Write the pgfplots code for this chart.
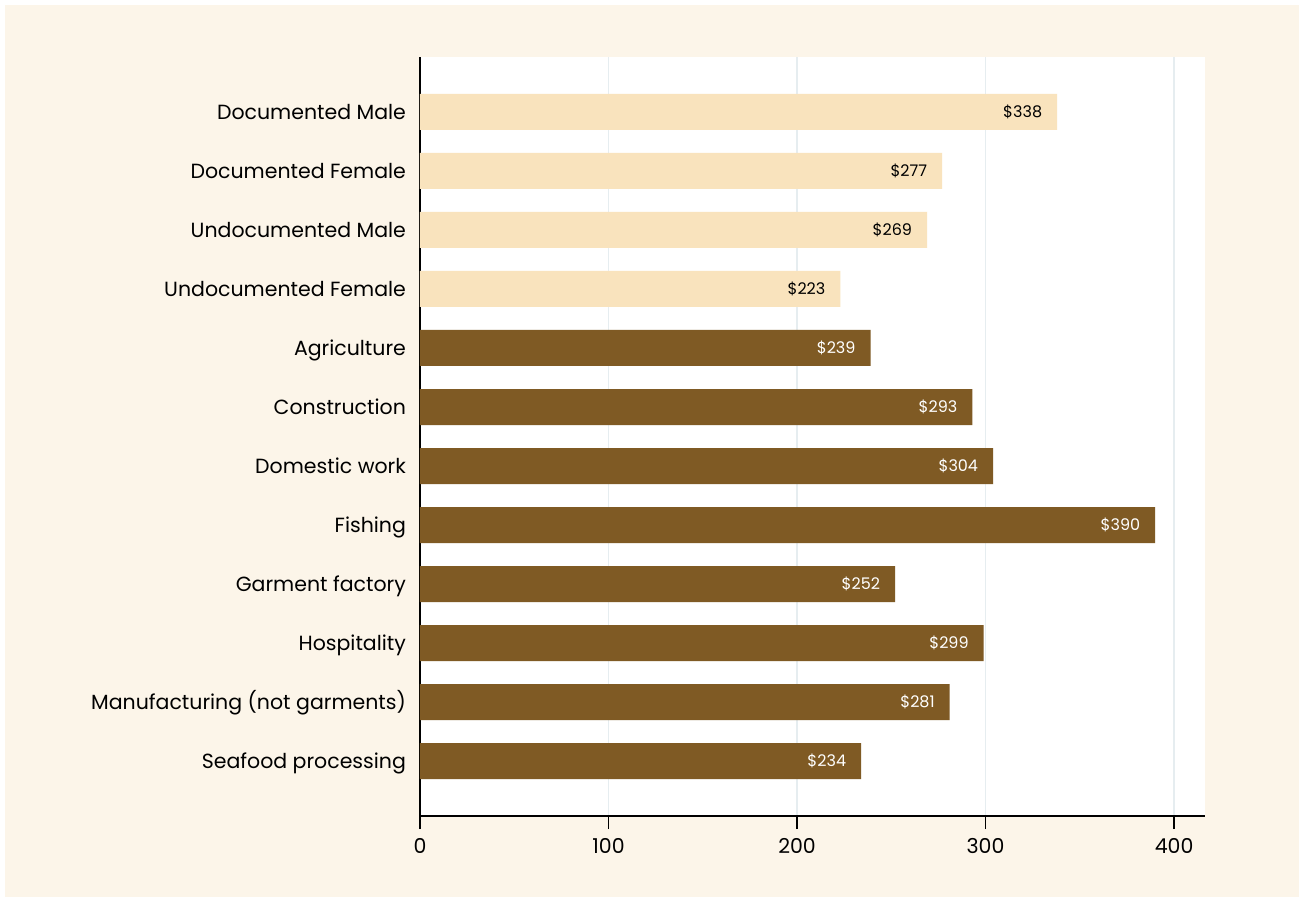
\documentclass[border=0pt]{standalone}
\usepackage{fontspec}
\setmainfont{Poppins}
\usepackage{pgfplots}
\pgfplotsset{compat=1.18}
\definecolor{cream}{HTML}{FCF5E9}
\definecolor{lightbar}{HTML}{F9E3BD}
\definecolor{darkbar}{HTML}{7F5A24}
\definecolor{gridc}{HTML}{E6EDF0}
\begin{document}
\begin{tikzpicture}
\fill[white] (-210pt,-43pt) rectangle (442pt,408pt);
\fill[cream] (-207.5pt,-40.5pt) rectangle (439.5pt,405.5pt);
\begin{axis}[
  at={(0,0)}, anchor=south west,
  scale only axis, width=392.5pt, height=379.5pt,
  axis background/.style={fill=white},
  xbar, bar width=18pt, bar shift=0pt,
  xmin=0, xmax=416.4, ymin=-0.93, ymax=11.93, y dir=reverse,
  ytick={0,...,11},
  yticklabels={Documented Male, Documented Female, Undocumented Male, Undocumented Female, Agriculture, Construction, Domestic work, Fishing, Garment factory, Hospitality, Manufacturing (not garments), Seafood processing},
  xtick={0,100,200,300,400},
  axis x line*=bottom, axis y line*=left,
  axis line style={black, line width=0.75pt},
  x tick style={black, line width=0.75pt},
  y tick style={draw=none},
  tick align=outside, major tick length=6.5pt,
  xmajorgrids, grid style={gridc, line width=0.6pt},
  /pgf/number format/assume math mode=true,
  tick label style={font=\fontsize{10.25}{12}\selectfont, black},
  yticklabel style={anchor=base east, xshift=3pt, yshift=-3.7pt},
  xticklabel style={yshift=-1pt},
  nodes near coords={\$\pgfmathprintnumber{\pgfplotspointmeta}},
  point meta=x,
  every node near coord/.append style={anchor=base east, xshift=-4pt, yshift=-2.9pt, font=\fontsize{8}{10}\selectfont},
]
\addplot[fill=lightbar, draw=none, every node near coord/.append style={text=black}] coordinates {
  (338,0) (277,1) (269,2) (223,3)
};
\addplot[fill=darkbar, draw=none, every node near coord/.append style={text=white}] coordinates {
  (239,4) (293,5) (304,6) (390,7) (252,8) (299,9) (281,10) (234,11)
};
\end{axis}
\end{tikzpicture}
\end{document}
